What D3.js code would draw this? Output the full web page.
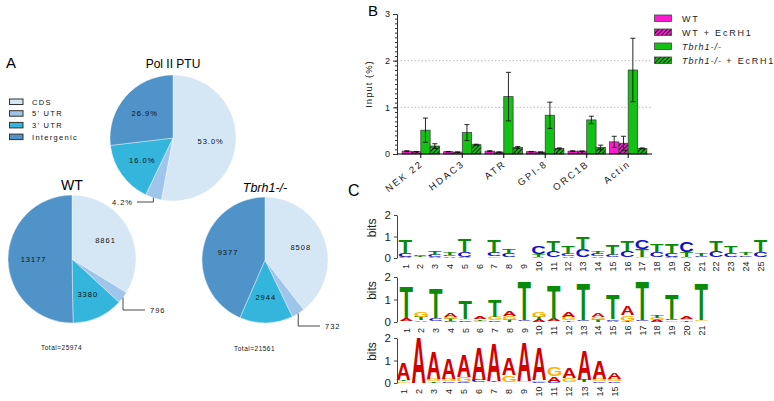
<!DOCTYPE html>
<html>
<head>
<meta charset="utf-8">
<script src="https://cdn.jsdelivr.net/npm/d3@7"></script>
<style>
  body { margin: 0; background: #fff; }
  svg { display: block; }
  text { font-family: "Liberation Sans", Arial, sans-serif; }
</style>
</head>
<body>
<svg id="fig" width="774" height="401"></svg>
<script>
// ---- panel A data
const regions = ["CDS", "5' UTR", "3' UTR", "Intergenic"];
const regionColors = ["#d5e6f5", "#9fc6ea", "#33b5dc", "#4f93c9"];
const polPct = [53.0, 4.2, 16.0, 26.9];
const wtCounts = [8861, 796, 3380, 13177];
const tbCounts = [8508, 732, 2944, 9377];
const totalLabels = ["Total=25974", "Total=21561"];

// ---- panel B data (Input %)
const genes = ["NEK 22", "HDAC3", "ATR", "GPI-8", "ORC1B", "Actin"];
const wtVals = [0.06, 0.05, 0.06, 0.05, 0.06, 0.26];
const wtErr = [0.01, 0.005, 0.01, 0.005, 0.01, 0.12];
const wtEcVals = [0.05, 0.04, 0.04, 0.04, 0.06, 0.23];
const wtEcErr = [0.005, 0.005, 0.005, 0.005, 0.005, 0.15];
const tbVals = [0.51, 0.46, 1.23, 0.83, 0.73, 1.80];
const tbErr = [0.26, 0.17, 0.52, 0.28, 0.08, 0.68];
const tbEcVals = [0.17, 0.20, 0.14, 0.12, 0.14, 0.12];
const tbEcErr = [0.05, 0.01, 0.02, 0.01, 0.05, 0.01];
const yTicksB = [0, 1, 2, 3];

// ---- panel C data: bits per position, [A, C, G, T]
const logo1 = [
  [0.03, 0.17, 0.03, 0.60], [0.02, 0.06, 0.02, 0.03], [0.03, 0.10, 0.02, 0.15], [0.05, 0.05, 0.02, 0.10],
  [0.03, 0.25, 0.02, 0.62], [0.02, 0.02, 0.02, 0.02], [0.02, 0.15, 0.05, 0.60], [0.02, 0.15, 0.02, 0.22],
  [0.02, 0.02, 0.02, 0.02], [0.03, 0.35, 0.02, 0.12], [0.02, 0.30, 0.02, 0.45], [0.05, 0.10, 0.02, 0.35],
  [0.02, 0.35, 0.02, 0.60], [0.07, 0.10, 0.02, 0.10], [0.02, 0.12, 0.02, 0.45], [0.02, 0.30, 0.02, 0.50],
  [0.02, 0.40, 0.03, 0.35], [0.02, 0.25, 0.02, 0.35], [0.03, 0.15, 0.02, 0.50], [0.03, 0.48, 0.02, 0.22],
  [0.02, 0.07, 0.02, 0.12], [0.02, 0.30, 0.02, 0.48], [0.02, 0.15, 0.02, 0.33], [0.02, 0.08, 0.02, 0.10],
  [0.02, 0.25, 0.02, 0.53]
];
const logo2 = [
  [0.12, 0.02, 0.02, 1.40], [0.07, 0.02, 0.25, 0.15], [0.02, 0.12, 0.02, 1.30], [0.18, 0.04, 0.10, 0.08],
  [0.02, 0.06, 0.06, 0.80], [0.10, 0.02, 0.04, 0.06], [0.02, 0.05, 0.15, 0.77], [0.25, 0.02, 0.15, 0.08],
  [0.02, 0.05, 0.02, 1.70], [0.10, 0.02, 0.25, 0.10], [0.10, 0.02, 0.02, 1.50], [0.20, 0.02, 0.15, 0.07],
  [0.02, 0.06, 0.02, 1.60], [0.17, 0.02, 0.12, 0.08], [0.04, 0.08, 0.02, 1.10], [0.40, 0.02, 0.25, 0.04],
  [0.02, 0.04, 0.02, 1.70], [0.08, 0.02, 0.10, 0.10], [0.02, 0.06, 0.05, 1.10], [0.10, 0.02, 0.06, 0.05],
  [0.02, 0.02, 0.04, 1.60]
];
const logo3 = [
  [0.75, 0.02, 0.05, 0.06], [2.00, 0.00, 0.00, 0.00], [1.20, 0.02, 0.10, 0.05], [0.93, 0.05, 0.10, 0.02],
  [0.96, 0.04, 0.20, 0.02], [1.45, 0.10, 0.02, 0.02], [1.65, 0.02, 0.02, 0.05], [0.75, 0.02, 0.30, 0.02],
  [1.70, 0.02, 0.06, 0.02], [1.45, 0.03, 0.07, 0.02], [0.25, 0.03, 0.38, 0.02], [0.45, 0.02, 0.18, 0.02],
  [1.30, 0.02, 0.02, 0.10], [0.80, 0.05, 0.10, 0.02], [0.30, 0.05, 0.12, 0.02]
];
const bases = ["A", "C", "G", "T"];
const baseColors = { A: "#d40000", C: "#1010c8", G: "#ffb300", T: "#0a8a0a" };

const svg = d3.select("#fig");
const defs = svg.append("defs");

// ================= PANEL A =================
svg.append("text").attr("x", 6).attr("y", 68).attr("font-size", 15).text("A");

const legA = svg.append("g");
regions.forEach((r, i) => {
  const y = 99 + i * 11.7;
  legA.append("rect").attr("x", 9.5).attr("y", y).attr("width", 13.5).attr("height", 5.5)
    .attr("fill", regionColors[i]).attr("stroke", "#333").attr("stroke-width", 1);
  legA.append("text").attr("x", 32).attr("y", y + 5.5).attr("font-size", 7.5)
    .attr("letter-spacing", 1.3).attr("fill", "#111").text(r);
});

function drawPie(opt) {
  const g = svg.append("g").attr("transform", `translate(${opt.cx},${opt.cy})`);
  const arcs = d3.pie().sort(null)(opt.values);
  const arc = d3.arc().innerRadius(0).outerRadius(opt.r);
  const lab = d3.arc().innerRadius(opt.r * 0.6).outerRadius(opt.r * 0.6);
  g.selectAll("path").data(arcs).join("path")
    .attr("d", arc)
    .attr("fill", (d, i) => regionColors[i])
    .attr("stroke", "#fff").attr("stroke-width", 0.4);
  g.selectAll("text.v").data(arcs.filter((d, i) => i !== 1)).join("text")
    .attr("class", "v")
    .attr("transform", d => `translate(${lab.centroid(d)})`)
    .attr("text-anchor", "middle").attr("dy", "0.35em")
    .attr("font-size", 7.5).attr("letter-spacing", 1).attr("fill", "#111")
    .text(d => opt.fmt(d.data));
  // leader line for the thin 5' UTR slice
  const s = arcs[1];
  const a = (s.startAngle + s.endAngle) / 2;
  const px = opt.r * Math.sin(a), py = -opt.r * Math.cos(a);
  g.append("path")
    .attr("d", `M${px},${py}V${opt.lineY}H${opt.lineX}`)
    .attr("fill", "none").attr("stroke", "#333").attr("stroke-width", 0.9);
  const left = opt.lineX < px;
  g.append("text")
    .attr("x", opt.lineX + (left ? -4 : 5)).attr("y", opt.lineY).attr("dy", "0.35em")
    .attr("text-anchor", left ? "end" : "start")
    .attr("font-size", 7.5).attr("letter-spacing", 1).attr("fill", "#111")
    .text(opt.fmt(s.data));
  // title
  const t = svg.append("text").attr("x", opt.cx).attr("y", opt.titleY)
    .attr("text-anchor", "middle").attr("font-size", opt.titleSize).text(opt.title);
  if (opt.italic) t.attr("font-style", "italic");
  if (opt.total) {
    svg.append("text").attr("x", opt.cx - 31).attr("y", opt.cy + 91)
      .attr("font-size", 6.5).attr("letter-spacing", 0.5).attr("fill", "#111").text(opt.total);
  }
}

drawPie({ cx: 173, cy: 138, r: 63, values: polPct, fmt: v => d3.format(".1f")(v) + "%",
  lineY: 64, lineX: -36, title: "Pol II PTU", titleY: 68, titleSize: 12 });
drawPie({ cx: 72, cy: 259, r: 64, values: wtCounts, fmt: v => String(v),
  lineY: 51, lineX: 73, title: "WT", titleY: 190, titleSize: 14, total: totalLabels[0] });
drawPie({ cx: 265, cy: 260, r: 63, values: tbCounts, fmt: v => String(v),
  lineY: 66, lineX: 55, title: "Tbrh1-/-", titleY: 192, titleSize: 12.5, italic: true, total: totalLabels[1] });

// ================= PANEL B =================
svg.append("text").attr("x", 368).attr("y", 16).attr("font-size", 15).text("B");

function hatch(id, color) {
  const p = defs.append("pattern").attr("id", id).attr("patternUnits", "userSpaceOnUse")
    .attr("width", 3).attr("height", 3).attr("patternTransform", "rotate(45)");
  p.append("rect").attr("width", 3).attr("height", 3).attr("fill", color);
  p.append("line").attr("x1", 0.5).attr("y1", 0).attr("x2", 0.5).attr("y2", 3)
    .attr("stroke", "#111").attr("stroke-width", 1.1);
}
const magenta = "#ff1ad2", green = "#12c212";
hatch("hM", magenta);
hatch("hG", green);

const seriesNames = ["WT", "WT + EcRH1", "Tbrh1-/-", "Tbrh1-/- + EcRH1"];
const seriesVals = [wtVals, wtEcVals, tbVals, tbEcVals];
const seriesErr = [wtErr, wtEcErr, tbErr, tbEcErr];
const seriesFill = [magenta, "url(#hM)", green, "url(#hG)"];

const yB = d3.scaleLinear().domain([0, 3]).range([154, 14]);
const xB = d3.scaleBand().domain(genes).range([398, 651]).paddingInner(0.1).paddingOuter(0.1);
const xS = d3.scaleBand().domain(d3.range(4)).range([0, xB.bandwidth()]);

const gB = svg.append("g");
// dotted grid
gB.selectAll("line.grid").data([1, 2]).join("line").attr("class", "grid")
  .attr("x1", 397).attr("x2", 652).attr("y1", d => yB(d)).attr("y2", d => yB(d))
  .attr("stroke", "#aaa").attr("stroke-width", 0.8).attr("stroke-dasharray", "1.5,2");

// bars
genes.forEach((gname, gi) => {
  seriesVals.forEach((vals, si) => {
    const x = xB(gname) + xS(si);
    const w = xS.bandwidth();
    gB.append("rect").attr("x", x).attr("y", yB(vals[gi])).attr("width", w)
      .attr("height", yB(0) - yB(vals[gi]))
      .attr("fill", seriesFill[si]).attr("stroke", "#444").attr("stroke-width", 0.8);
    const e = seriesErr[si][gi];
    const cx = x + w / 2;
    gB.append("path")
      .attr("d", `M${cx},${yB(vals[gi] + e)}V${yB(Math.max(0, vals[gi] - e))}` +
        `M${cx - 2.5},${yB(vals[gi] + e)}H${cx + 2.5}M${cx - 2.5},${yB(Math.max(0, vals[gi] - e))}H${cx + 2.5}`)
      .attr("stroke", "#111").attr("stroke-width", 0.9).attr("fill", "none");
  });
});

// y axis
const yAx = gB.append("g").attr("transform", "translate(397,0)")
  .call(d3.axisLeft(yB).tickValues(yTicksB).tickSize(4).tickFormat(d3.format("d")));
gB.append("g").attr("transform", "translate(397,0)")
  .call(d3.axisLeft(yB).tickValues(d3.range(0, 30).map(d => d / 10)).tickSize(2).tickFormat(""))
  .select(".domain").remove();
yAx.selectAll("text").attr("font-size", 9).attr("fill", "#222")
  .style("font-family", "'Liberation Sans', Arial, sans-serif");
gB.selectAll(".tick line, .domain").attr("stroke", "#333");

// x axis
const xAx = gB.append("g").attr("transform", "translate(0,154)")
  .call(d3.axisBottom(xB).tickSize(4).tickSizeOuter(0));
xAx.select(".domain").attr("d", "M397,0H652");
xAx.selectAll("text")
  .attr("text-anchor", "end").attr("dy", 0).attr("y", 0)
  .attr("transform", "translate(3,11) rotate(-38)")
  .attr("font-size", 9.5).attr("letter-spacing", 2).attr("fill", "#222")
  .style("font-family", "'Liberation Sans', Arial, sans-serif");

svg.append("text").attr("transform", "translate(372,84) rotate(-90)")
  .attr("text-anchor", "middle").attr("font-size", 9.5).attr("letter-spacing", 1)
  .attr("fill", "#222").text("Input (%)");

// legend B
seriesNames.forEach((n, i) => {
  const y = 15 + i * 14;
  svg.append("rect").attr("x", 654.5).attr("y", y).attr("width", 17).attr("height", 6.5)
    .attr("fill", seriesFill[i]).attr("stroke", "#444").attr("stroke-width", 0.8);
  const t = svg.append("text").attr("x", 682).attr("y", y + 6.5).attr("font-size", 9)
    .attr("letter-spacing", 1.8).attr("fill", "#222");
  if (i < 2) t.text(n);
  else {
    t.append("tspan").attr("font-style", "italic").attr("letter-spacing", 1).text("Tbrh1-/-");
    if (i === 3) t.append("tspan").text(" + EcRH1");
  }
});

// ================= PANEL C =================
svg.append("text").attr("x", 348).attr("y", 196).attr("font-size", 16).text("C");

const ctx = document.createElement("canvas").getContext("2d");
ctx.font = "bold 100px 'Liberation Sans'";
const met = {};
bases.forEach(b => {
  const m = ctx.measureText(b);
  met[b] = { l: m.actualBoundingBoxLeft, r: m.actualBoundingBoxRight,
    a: m.actualBoundingBoxAscent, d: m.actualBoundingBoxDescent };
});

function drawLogo(data, x0, step, base, ppb) {
  const n = data.length;
  const x = d3.scaleBand().domain(d3.range(1, n + 1)).range([x0, x0 + n * step]);
  const y = d3.scaleLinear().domain([0, 2]).range([base, base - 2 * ppb]);
  const g = svg.append("g");
  data.forEach((col, i) => {
    const items = bases.map((b, k) => ({ b, h: col[k] })).filter(d => d.h > 0.004)
      .sort((p, q) => p.h - q.h);
    let cum = 0;
    const left = x(i + 1) + step * 0.05;
    const w = step * 0.9;
    items.forEach(it => {
      const yb = y(cum), yt = y(cum + it.h);
      cum += it.h;
      const m = met[it.b];
      const sx = w / (m.l + m.r), sy = (yb - yt) / (m.a + m.d);
      g.append("text")
        .attr("transform", `translate(${left + m.l * sx},${yb - m.d * sy}) scale(${sx},${sy})`)
        .attr("font-size", 100).attr("font-weight", "bold").attr("fill", baseColors[it.b])
        .text(it.b);
    });
  });
  const ax = g.append("g").attr("transform", "translate(397,0)")
    .call(d3.axisLeft(y).tickValues([0, 1, 2]).tickSize(3).tickSizeOuter(0).tickFormat(d3.format("d")));
  ax.selectAll("text").attr("font-size", 11.5).attr("fill", "#222")
    .style("font-family", "'Liberation Sans', Arial, sans-serif");
  ax.selectAll("line, .domain").attr("stroke", "#444");
  g.selectAll("text.pos").data(d3.range(1, n + 1)).join("text").attr("class", "pos")
    .attr("transform", d => `translate(${x(d) + step / 2},${base + 8.5}) rotate(-90)`)
    .attr("text-anchor", "middle").attr("dy", "0.35em").attr("font-size", 9).attr("fill", "#222")
    .text(d => d);
  svg.append("text").attr("transform", `translate(376,${base - ppb * 1.4}) rotate(-90)`)
    .attr("text-anchor", "middle").attr("font-size", 12).attr("fill", "#222").text("bits");
}

drawLogo(logo1, 398, 14.8, 258, 21.5);
drawLogo(logo2, 399, 14.75, 322, 22.5);
drawLogo(logo3, 396, 15.07, 383, 22.5);
</script>
</body>
</html>
